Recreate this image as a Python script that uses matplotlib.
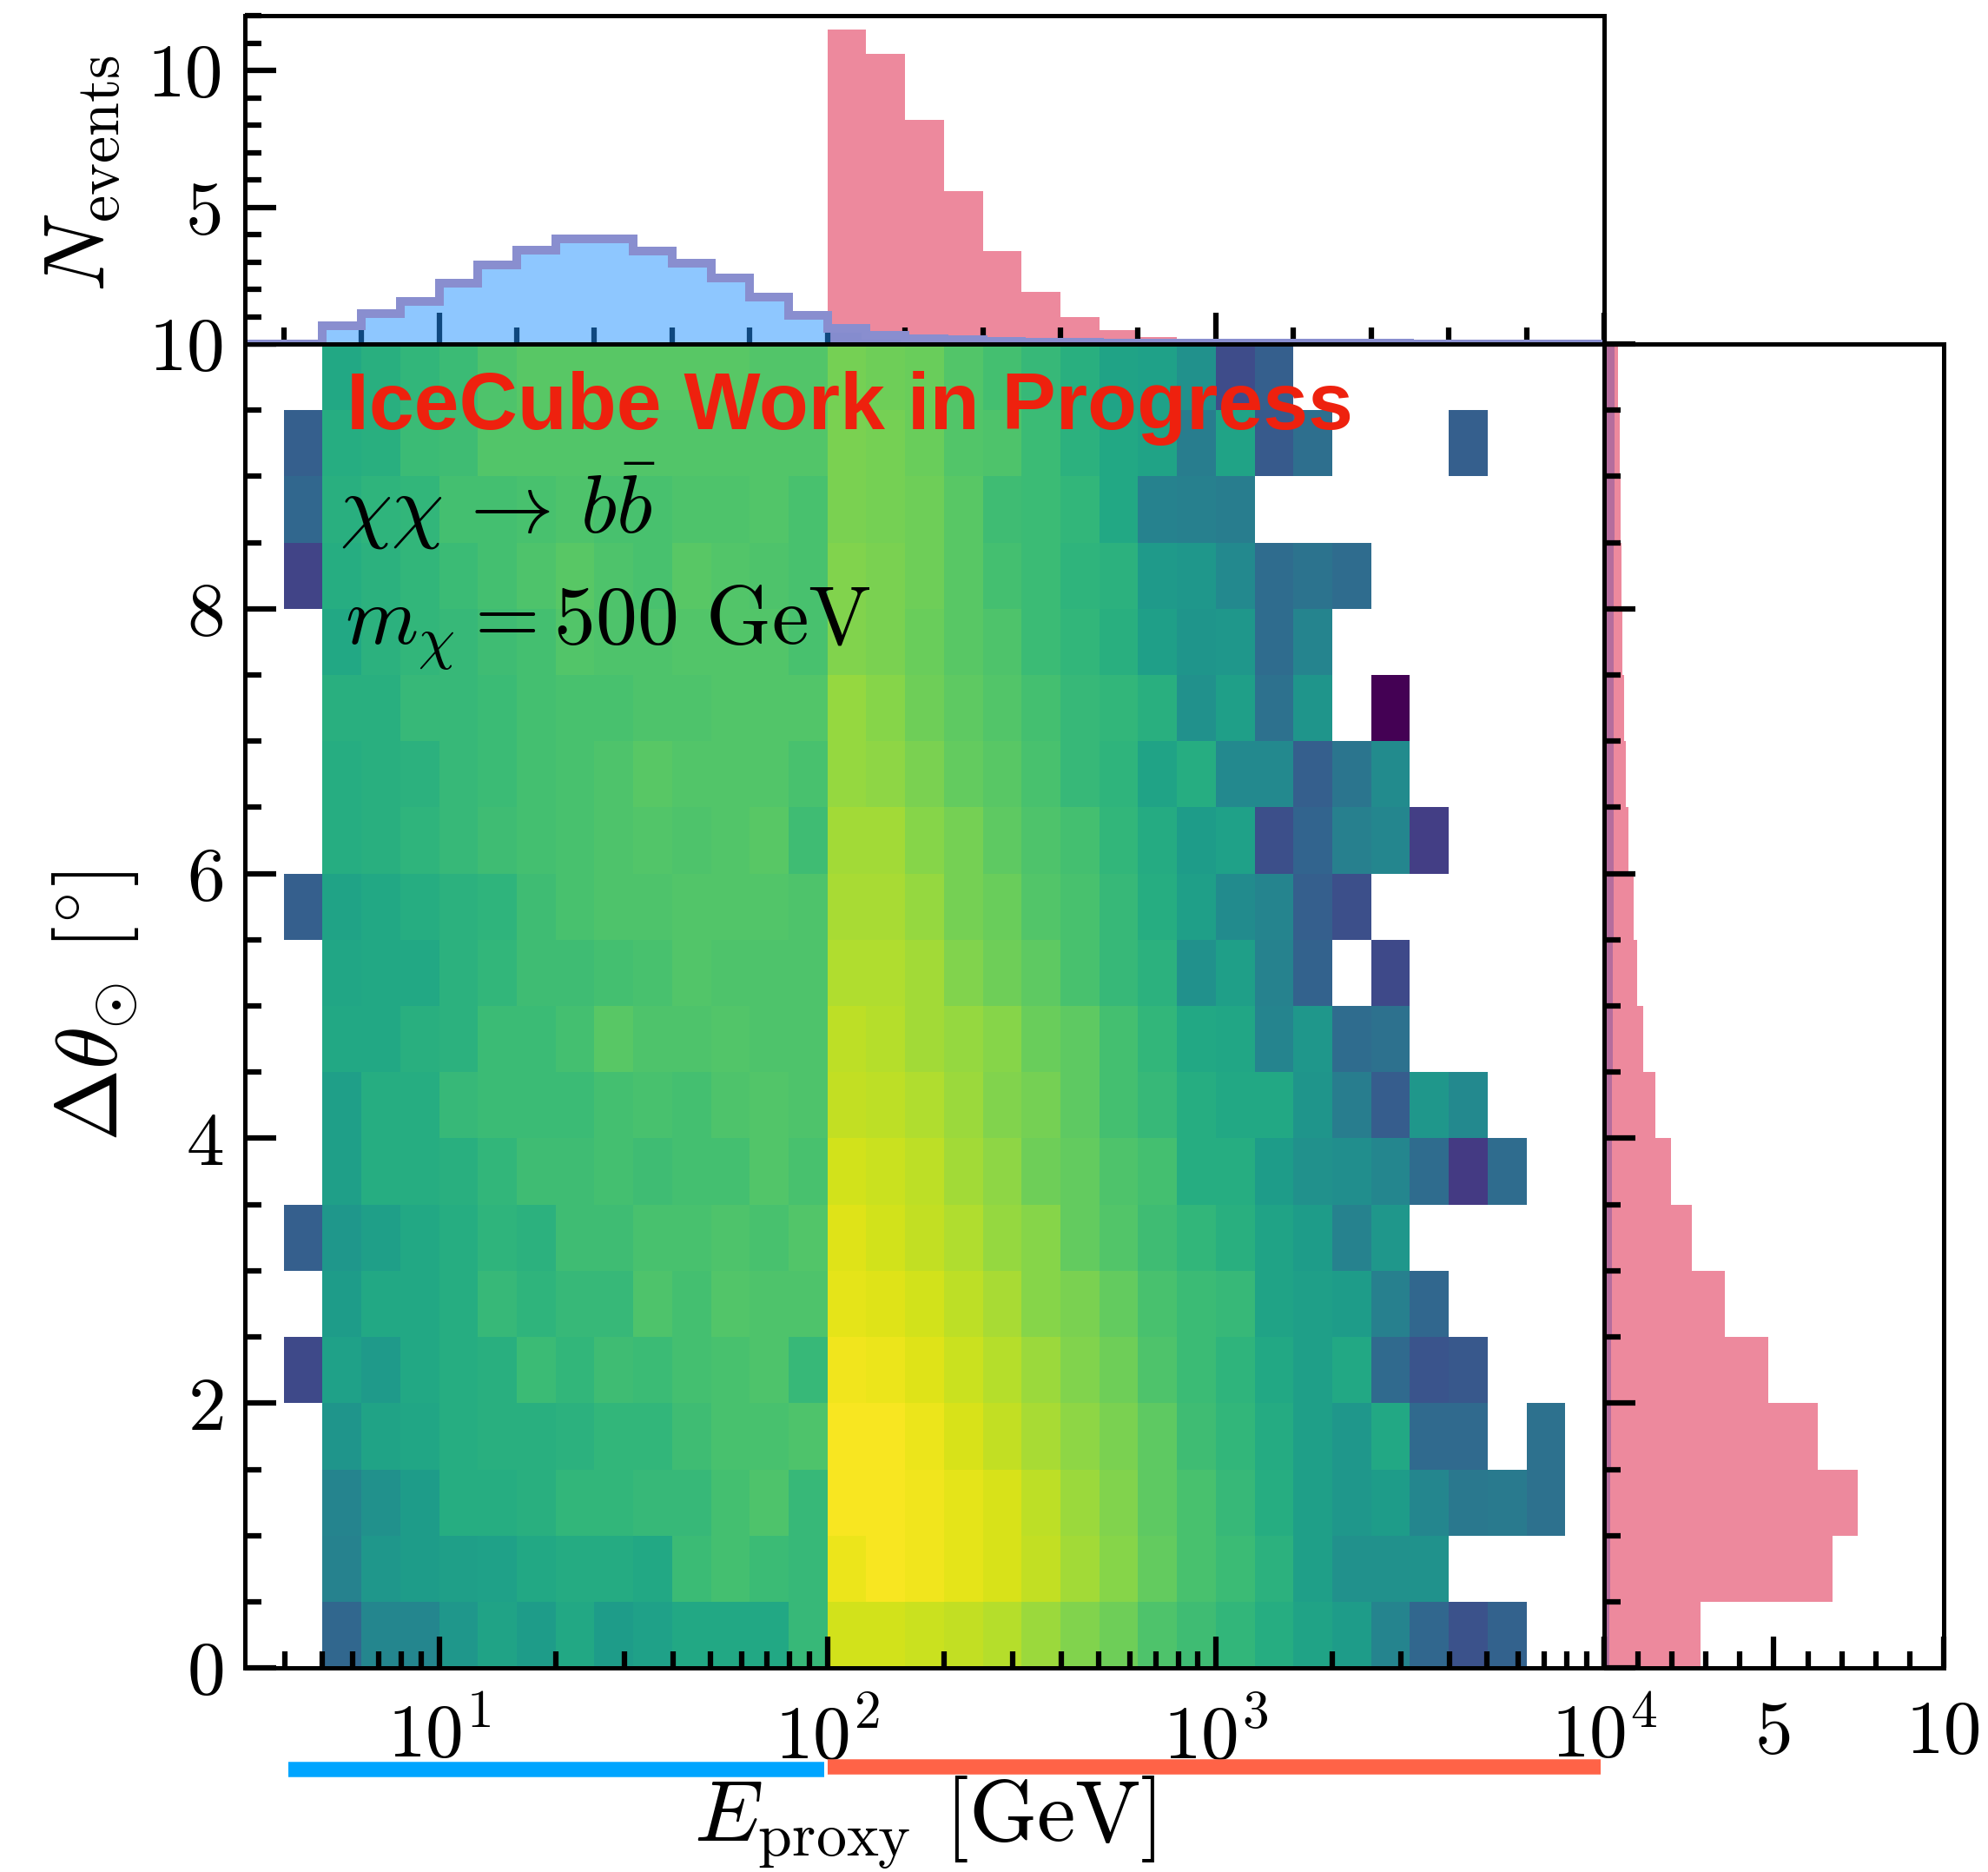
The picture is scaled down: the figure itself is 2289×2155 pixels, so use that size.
import numpy as np
import matplotlib
matplotlib.use("Agg")
import matplotlib.pyplot as plt
from matplotlib.ticker import MultipleLocator, FixedLocator, NullFormatter

plt.rcParams['font.family'] = 'serif'
plt.rcParams['font.serif'] = ['cmr10']
plt.rcParams['mathtext.fontset'] = 'cm'
plt.rcParams['axes.formatter.use_mathtext'] = True
plt.rcParams['axes.unicode_minus'] = False

# === Binning ===
log_e_edges = np.round(np.arange(0.5, 4.001, 0.1), 2)   # log10(E_proxy / GeV), marginal bins
log_e_edges_2d = log_e_edges[1:]                          # 2D histogram starts at 10^0.6 GeV
dtheta_edges = np.arange(0, 10.001, 0.5)

# === 2D histogram: colour level (% of colour scale), rows = dtheta bins (bottom -> top),
# columns = energy bins from 10^0.6 GeV, N = empty bin ===
N = None
grid = [
    [N, 33, 46, 46, 53, 58, 55, 60, 55, 57, 60, 60, 60, 67, 93, 93, 92, 91, 89, 85, 81, 78, 72, 69, 66, 62, 58, 55, 45, 33, 25, 31, N, N],
    [N, 44, 53, 55, 56, 57, 60, 61, 61, 60, 68, 70, 68, 67, 97, 99, 98, 96, 94, 91, 86, 82, 76, 71, 68, 64, 56, 50, 50, 51, N, N, N, N],
    [N, 45, 50, 55, 62, 62, 63, 66, 66, 67, 67, 70, 72, 67, 99, 99, 98, 96, 94, 90, 85, 81, 75, 71, 67, 62, 56, 53, 55, 46, 40, 41, 37, N],
    [N, 52, 58, 59, 62, 63, 63, 64, 66, 66, 69, 71, 71, 72, 99, 99, 97, 94, 91, 87, 83, 80, 75, 69, 66, 61, 56, 53, 60, 34, 34, N, 37, N],
    [22, 57, 54, 60, 62, 63, 68, 66, 69, 68, 70, 71, 72, 67, 98, 97, 95, 92, 89, 85, 81, 78, 72, 68, 65, 60, 56, 60, 34, 26, 27, N, N, N],
    [N, 55, 60, 60, 62, 67, 65, 67, 67, 72, 70, 73, 72, 72, 96, 95, 93, 90, 87, 82, 80, 76, 71, 68, 67, 58, 56, 55, 43, 33, N, N, N, N],
    [30, 53, 56, 60, 62, 65, 64, 69, 69, 71, 71, 72, 71, 73, 95, 93, 91, 88, 84, 82, 76, 73, 69, 66, 63, 58, 55, 44, 53, N, N, N, N, N],
    [N, 56, 62, 62, 63, 66, 69, 69, 70, 69, 70, 70, 73, 71, 93, 92, 90, 86, 83, 78, 76, 72, 70, 62, 62, 55, 50, 49, 46, 35, 17, 35, N, N],
    [N, 56, 62, 62, 67, 68, 68, 68, 70, 71, 70, 72, 73, 72, 91, 90, 88, 85, 81, 79, 75, 70, 67, 62, 60, 60, 52, 42, 29, 53, 47, N, N, N],
    [N, 60, 60, 63, 64, 68, 68, 70, 74, 72, 72, 73, 72, 72, 90, 89, 86, 84, 82, 77, 75, 70, 66, 60, 59, 45, 53, 35, 37, N, N, N, N, N],
    [N, 59, 60, 60, 64, 66, 69, 69, 70, 71, 73, 72, 72, 72, 88, 88, 86, 81, 78, 75, 71, 67, 64, 50, 56, 44, 31, N, 22, N, N, N, N, N],
    [30, 58, 60, 62, 64, 65, 69, 71, 72, 72, 73, 73, 73, 72, 87, 87, 84, 79, 77, 73, 71, 67, 62, 56, 48, 45, 30, 24, N, N, N, N, N, N],
    [N, 62, 63, 65, 67, 69, 70, 71, 72, 73, 72, 73, 74, 69, 86, 86, 82, 79, 75, 72, 70, 66, 61, 55, 57, 24, 32, 43, 46, 18, N, N, N, N],
    [N, 62, 63, 64, 67, 68, 70, 71, 72, 74, 73, 73, 73, 71, 84, 83, 80, 76, 74, 71, 67, 65, 58, 62, 47, 47, 30, 39, 48, N, N, N, N, N],
    [N, 63, 63, 67, 67, 68, 70, 71, 71, 72, 72, 73, 73, 73, 84, 82, 78, 75, 73, 70, 67, 66, 63, 50, 56, 37, 52, N, 0, N, N, N, N, N],
    [N, 60, 64, 66, 67, 69, 70, 73, 72, 72, 73, 73, 73, 71, 81, 80, 77, 74, 72, 68, 66, 63, 56, 52, 53, 35, 45, N, N, N, N, N, N, N],
    [20, 62, 64, 66, 68, 70, 72, 74, 72, 71, 74, 73, 72, 71, 81, 80, 78, 74, 70, 68, 65, 64, 54, 53, 47, 35, 38, 35, N, N, N, N, N, N],
    [33, 63, 65, 66, 70, 70, 71, 72, 71, 71, 72, 72, 73, 71, 80, 79, 78, 74, 69, 68, 66, 60, 44, 43, 42, N, N, N, N, N, N, N, N, N],
    [30, 62, 63, 68, 69, 73, 73, 73, 73, 73, 73, 73, 73, 73, 80, 79, 77, 73, 72, 68, 64, 60, 58, 42, 58, 28, 36, N, N, N, 30, N, N, N],
    [N, 60, 63, 66, 68, 72, 74, 74, 74, 74, 74, 74, 73, 73, 79, 78, 77, 73, 70, 67, 63, 58, 57, 50, 23, 30, N, N, N, N, N, N, N, N],
]

# === Marginal distributions (events per bin) ===
# top panel, energy bins 10^0.5 ... 10^4
bkg_top = [0, 0, 0.66, 1.10, 1.57, 2.23, 2.89, 3.44, 3.83, 3.83, 3.40, 2.96, 2.41, 1.73, 1.05,
           0.58, 0.32, 0.19, 0.17, 0.10, 0.08, 0.06, 0.05, 0.04, 0.04, 0.03, 0.03, 0.02, 0.02,
           0.02, 0.01, 0.01, 0.01, 0.01, 0.01]
sig_top = [0] * 15 + [11.5, 10.6, 8.18, 5.59, 3.40, 1.90, 0.98, 0.51, 0.27, 0.16, 0.10, 0.07,
                      0.05, 0.03, 0.02, 0.015, 0.01, 0.007, 0.005, 0.003]
# right panel, dtheta bins 0 ... 10 deg
sig_right = [2.83, 6.72, 7.48, 6.29, 4.84, 3.56, 2.59, 1.98, 1.50, 1.16, 0.97, 0.86, 0.72,
             0.63, 0.59, 0.54, 0.50, 0.48, 0.47, 0.41]
bkg_right = [0.15, 0.17, 0.19, 0.20, 0.21, 0.22, 0.23, 0.24, 0.24, 0.25, 0.26, 0.27, 0.27,
             0.28, 0.28, 0.29, 0.29, 0.30, 0.30, 0.30]

# energy ranges of the two samples (GeV)
low_e_range = [4.1, 98]
high_e_range = [100, 9800]

# === Figure layout ===
fig = plt.figure(figsize=(2289 / 300, 2155 / 300), dpi=300)
ax = fig.add_axes([0.1232, 0.1090, 0.6837, 0.7072])
ax_top = fig.add_axes([0.1232, 0.8162, 0.6837, 0.1754])
ax_right = fig.add_axes([0.8069, 0.1090, 0.1708, 0.7072])

e_edges_2d = 10 ** log_e_edges_2d
z = np.array(grid, dtype=float)

ax.pcolormesh(e_edges_2d, dtheta_edges, np.ma.masked_invalid(z), cmap='viridis', vmin=0, vmax=100)
ax.set_xscale('log')
ax.set_xlim(10 ** 0.5, 1e4)
ax.set_ylim(0, 10)

# sample bands under the x axis
ax.plot(low_e_range, [-0.77, -0.77], color='#00a5ff', lw=4.2, solid_capstyle='butt', clip_on=False)
ax.plot(high_e_range, [-0.745, -0.745], color='tomato', lw=4.2, solid_capstyle='butt', clip_on=False)

# top marginal (x axis in log10 E)
ax_top.set_axisbelow(True)
ax_top.stairs(sig_top, log_e_edges, fill=True, color='crimson', alpha=0.5, lw=0, zorder=0.3)
ax_top.stairs(bkg_top, log_e_edges, fill=True, color='dodgerblue', alpha=0.5, lw=0, zorder=1)
ax_top.stairs(bkg_top, log_e_edges, fill=False, color='#898ecf', lw=2.4, zorder=1.1)
ax_top.set_xlim(0.5, 4)
ax_top.set_ylim(0, 12)

# right marginal
ax_right.stairs(bkg_right, dtheta_edges, orientation='horizontal', fill=True,
                color='dodgerblue', alpha=0.5, lw=0)
ax_right.stairs(sig_right, dtheta_edges, orientation='horizontal', fill=True,
                color='crimson', alpha=0.5, lw=0)
ax_right.set_xlim(0, 10)
ax_right.set_ylim(0, 10)

# === Ticks and spines ===
for a in (ax, ax_top, ax_right):
    a.tick_params(which='both', direction='in', top=False, right=False, width=1.5, labelsize=21)
    a.tick_params(which='major', length=8.6)
    a.tick_params(which='minor', length=4.5)
    for s in a.spines.values():
        s.set_linewidth(1.2)

ax.tick_params(axis='x', which='major', pad=9)
ax.tick_params(axis='y', which='major', pad=6)
ax.yaxis.set_major_locator(MultipleLocator(2))
ax.yaxis.set_minor_locator(MultipleLocator(0.5))

ax_top.xaxis.set_major_locator(MultipleLocator(1))
ax_top.xaxis.set_minor_locator(MultipleLocator(0.2))
ax_top.xaxis.set_major_formatter(NullFormatter())
ax_top.yaxis.set_major_locator(FixedLocator([0, 5, 10]))
ax_top.set_yticklabels(['', '5', '10'])
ax_top.yaxis.set_minor_locator(MultipleLocator(1))
ax_top.tick_params(axis='y', which='major', pad=6)

ax_right.xaxis.set_major_locator(FixedLocator([0, 5, 10]))
ax_right.set_xticklabels(['', '5', '10'])
ax_right.xaxis.set_minor_locator(MultipleLocator(1))
ax_right.yaxis.set_major_locator(MultipleLocator(2))
ax_right.yaxis.set_minor_locator(MultipleLocator(0.5))
ax_right.yaxis.set_major_formatter(NullFormatter())
ax_right.tick_params(axis='x', which='major', pad=9)

# === Labels and annotations ===
ax.text(-0.11, 0.5, r'$\Delta\theta_{\odot}\ [^{\circ}]$', transform=ax.transAxes,
        rotation=90, ha='center', va='center', fontsize=24)
ax.text(0.5, -0.117, r'$E_{\rm proxy}$ [GeV]', transform=ax.transAxes,
        ha='center', va='center', fontsize=24)
ax_top.text(-0.119, 0.52, r'$N_{\rm events}$', transform=ax_top.transAxes,
            rotation=90, ha='center', va='center', fontsize=24)

ax.text(0.0745, 0.936, 'IceCube Work in Progress', transform=ax.transAxes,
        color='#ee210e', fontsize=22.4, fontweight='bold', family='Liberation Sans', va='baseline')
ax.text(0.0698, 0.8576, r'$\chi\chi\,\rightarrow\,b\bar{b}$', transform=ax.transAxes,
        fontsize=23, va='baseline')
ax.text(0.0736, 0.773, r'$m_\chi = 500$ GeV', transform=ax.transAxes,
        fontsize=23, va='baseline')

fig.savefig('out.png', dpi=300)
